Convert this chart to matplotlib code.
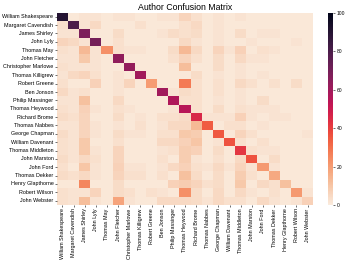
import numpy as np
import pandas as pd
import matplotlib
matplotlib.use('Agg')
import matplotlib.pyplot as plt
import seaborn as sns

plt.rcParams['font.family'] = ['Liberation Sans', 'DejaVu Sans']

authors = ['William Shakespeare', 'Margaret Cavendish', 'James Shirley', 'John Lyly',
           'Thomas May', 'John Fletcher', 'Christopher Marlowe', 'Thomas Killigrew',
           'Robert Greene', 'Ben Jonson', 'Philip Massinger', 'Thomas Heywood',
           'Richard Brome', 'Thomas Nabbes', 'George Chapman', 'William Davenant',
           'Thomas Middleton', 'John Marston', 'John Ford', 'Thomas Dekker',
           'Henry Glapthorne', 'Robert Wilson', 'John Webster']

# 混淆矩阵（行：真实作者，列：预测作者）
matrix = [
    [90, 1, 2, 2, 1, 2, 2, 1, 1, 2, 2, 6, 3, 1, 2, 1, 2, 1, 1, 1, 1, 1, 1],
    [3, 80, 2, 5, 1, 1, 1, 3, 1, 1, 1, 3, 5, 1, 2, 1, 1, 1, 1, 1, 1, 1, 1],
    [2, 2, 68, 1, 1, 4, 1, 1, 1, 2, 4, 3, 4, 1, 2, 1, 4, 1, 2, 2, 1, 1, 1],
    [6, 5, 2, 70, 1, 3, 1, 1, 1, 1, 1, 5, 2, 1, 2, 1, 1, 2, 1, 1, 1, 2, 1],
    [3, 2, 13, 2, 23, 3, 2, 2, 1, 1, 4, 13, 5, 1, 6, 2, 7, 1, 3, 2, 1, 1, 1],
    [2, 2, 9, 2, 1, 64, 1, 1, 1, 1, 3, 6, 3, 1, 4, 1, 5, 2, 2, 1, 1, 1, 1],
    [3, 2, 2, 2, 1, 1, 63, 1, 1, 1, 1, 12, 1, 1, 4, 1, 2, 1, 1, 1, 1, 1, 1],
    [2, 5, 6, 3, 1, 2, 1, 60, 1, 1, 1, 1, 4, 1, 2, 1, 2, 1, 2, 1, 1, 1, 1],
    [3, 1, 1, 7, 1, 2, 6, 1, 20, 1, 1, 28, 3, 1, 3, 1, 5, 3, 1, 3, 1, 4, 1],
    [5, 2, 3, 1, 1, 2, 1, 1, 1, 60, 2, 4, 3, 1, 3, 1, 2, 1, 1, 1, 1, 1, 1],
    [2, 2, 11, 1, 1, 5, 1, 1, 1, 1, 57, 3, 3, 1, 2, 1, 2, 1, 4, 1, 1, 1, 1],
    [3, 2, 7, 2, 1, 3, 2, 1, 1, 1, 2, 55, 3, 1, 4, 1, 3, 2, 2, 2, 1, 1, 1],
    [4, 3, 6, 1, 1, 4, 1, 2, 1, 3, 3, 4, 46, 2, 2, 2, 7, 2, 1, 2, 2, 1, 1],
    [2, 2, 6, 2, 1, 2, 1, 3, 1, 2, 5, 5, 13, 34, 1, 3, 3, 1, 2, 1, 1, 1, 1],
    [4, 2, 6, 2, 1, 4, 2, 2, 1, 3, 3, 9, 8, 1, 35, 1, 6, 3, 1, 1, 1, 1, 2],
    [3, 2, 9, 1, 1, 3, 1, 1, 1, 5, 5, 7, 10, 1, 2, 36, 3, 1, 3, 1, 1, 1, 1],
    [3, 2, 9, 2, 1, 6, 1, 1, 1, 2, 3, 8, 7, 1, 4, 1, 42, 3, 2, 2, 1, 1, 1],
    [4, 2, 5, 3, 1, 6, 1, 1, 1, 3, 1, 8, 2, 1, 3, 1, 5, 36, 1, 4, 1, 1, 1],
    [3, 1, 10, 2, 1, 7, 2, 2, 1, 2, 5, 7, 3, 2, 5, 2, 6, 2, 21, 2, 1, 1, 1],
    [4, 3, 5, 2, 1, 6, 3, 3, 1, 3, 1, 11, 4, 1, 4, 1, 8, 3, 1, 17, 1, 1, 1],
    [1, 1, 25, 1, 1, 4, 1, 1, 1, 1, 7, 8, 6, 3, 4, 1, 9, 1, 5, 3, 11, 1, 1],
    [3, 2, 2, 6, 1, 4, 3, 1, 3, 2, 1, 23, 4, 1, 5, 1, 5, 2, 1, 3, 1, 21, 2],
    [3, 2, 12, 2, 1, 18, 2, 1, 1, 5, 5, 5, 4, 2, 5, 3, 3, 1, 5, 2, 1, 2, 7],
]

df = pd.DataFrame(np.array(matrix), index=authors, columns=authors)

fig = plt.figure(figsize=(3.51, 2.62), dpi=100)
ax = fig.add_axes([0.162, 0.218, 0.730, 0.734])
cax = fig.add_axes([0.934, 0.218, 0.015, 0.732])

sns.heatmap(df, cmap='rocket_r', vmin=0, vmax=100, ax=ax, cbar_ax=cax,
            xticklabels=True, yticklabels=True)

ax.set_title('Author Confusion Matrix', fontsize=6.3, pad=1.5)
ax.tick_params(axis='both', labelsize=3.9, length=1.5, width=0.4, pad=1)
plt.setp(ax.get_xticklabels(), rotation=90)
plt.setp(ax.get_yticklabels(), rotation=0)

cax.set_yticks([0, 20, 40, 60, 80, 100])
cax.tick_params(labelsize=3.6, length=1.5, width=0.4, pad=1)

fig.savefig('out.png', dpi=100)
